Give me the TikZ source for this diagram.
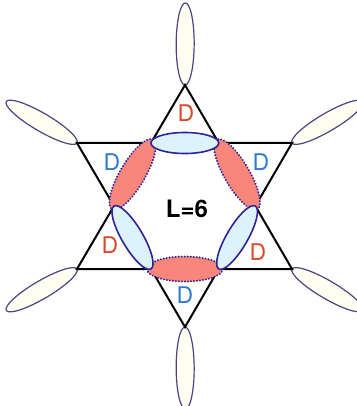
\documentclass[tikz,border=0pt]{standalone}
\usepackage{fontspec}
\setmainfont{TeX Gyre Heros}
\usetikzlibrary{shapes.geometric,calc}
\definecolor{redD}{HTML}{D94A2B}
\definecolor{blueD}{HTML}{2F7BD0}
\definecolor{navy}{HTML}{2E2496}
\definecolor{petalline}{HTML}{4B4485}
\definecolor{petalfill}{HTML}{FFFEF0}
\definecolor{salmon}{HTML}{F8867A}
\definecolor{iceblue}{HTML}{DCF3FB}
\begin{document}
\begin{tikzpicture}[x=1pt,y=-1pt,
  tri/.style={line width=2pt, line join=miter},
  petal/.style={ellipse, draw=petalline, fill=petalfill, line width=1.2pt, inner sep=0pt, minimum height=18pt},
  bluebond/.style={ellipse, draw=navy, fill=iceblue, line width=1.6pt, inner sep=0pt, minimum height=21pt},
  redbond/.style={ellipse, draw=navy, fill=salmon, line width=2.2pt, line cap=round, dash pattern=on 0.01pt off 3pt, inner sep=0pt, minimum height=25pt},
  lab/.style={font=\fontsize{23}{23}\selectfont, inner sep=0pt},
]
\useasboundingbox (0,0) rectangle (356,406);
\coordinate (C) at (184.5,206);
\coordinate (OT) at (185,85);
\coordinate (OB) at (185,327);
\coordinate (OUL) at (77,143);
\coordinate (OUR) at (292,143);
\coordinate (OLL) at (77,269);
\coordinate (OLR) at (292,269);
\coordinate (HTL) at (intersection of OUL--OUR and OT--OLL);
\coordinate (HTR) at (intersection of OUL--OUR and OT--OLR);
\coordinate (HR) at (intersection of OT--OLR and OUR--OB);
\coordinate (HBR) at (intersection of OLL--OLR and OUR--OB);
\coordinate (HBL) at (intersection of OLL--OLR and OUL--OB);
\coordinate (HL) at (intersection of OT--OLL and OUL--OB);
% petals
\foreach \vv/\nm in {OT/pT,OB/pB,OUL/pUL,OUR/pUR,OLL/pLL,OLR/pLR}{
  \path let \p1=($(\vv)-(C)$), \n1={atan2(\y1,\x1)} in
    ($(\vv)!-41pt!(C)$) node[petal, minimum width=82pt, rotate=\n1] (\nm) {};
}
% triangles
\draw[tri] (OT) -- (OLL) -- (OLR) -- cycle;
\draw[tri] (OB) -- (OUL) -- (OUR) -- cycle;
% red bonds
\foreach \aa/\bb/\nm in {HTR/HR/r1,HBR/HBL/r2,HL/HTL/r3}{
  \path let \p1=($(\bb)-(\aa)$), \n1={atan2(\y1,\x1)}, \n2={veclen(\x1,\y1)+8} in
    ($(\aa)!.5!(\bb)$) node[redbond, minimum width=\n2, rotate=\n1] (\nm) {};
}
% blue bonds
\foreach \aa/\bb/\nm in {HTL/HTR/b1,HR/HBR/b2,HBL/HL/b3}{
  \path let \p1=($(\bb)-(\aa)$), \n1={atan2(\y1,\x1)}, \n2={veclen(\x1,\y1)} in
    ($(\aa)!.5!(\bb)$) node[bluebond, minimum width=\n2, rotate=\n1] (\nm) {};
}
% labels
\node[lab, text=redD] (d1) at (186,113) {D};
\node[lab, text=blueD] (d2) at (261,162) {D};
\node[lab, text=redD] (d3) at (258,252) {D};
\node[lab, text=blueD] (d4) at (185,295) {D};
\node[lab, text=redD] (d5) at (110,245) {D};
\node[lab, text=blueD] (d6) at (112,162) {D};
\node[font=\bfseries\fontsize{24}{24}\selectfont, inner sep=0pt] (L) at (187,209) {L=6};
\end{tikzpicture}
\end{document}
